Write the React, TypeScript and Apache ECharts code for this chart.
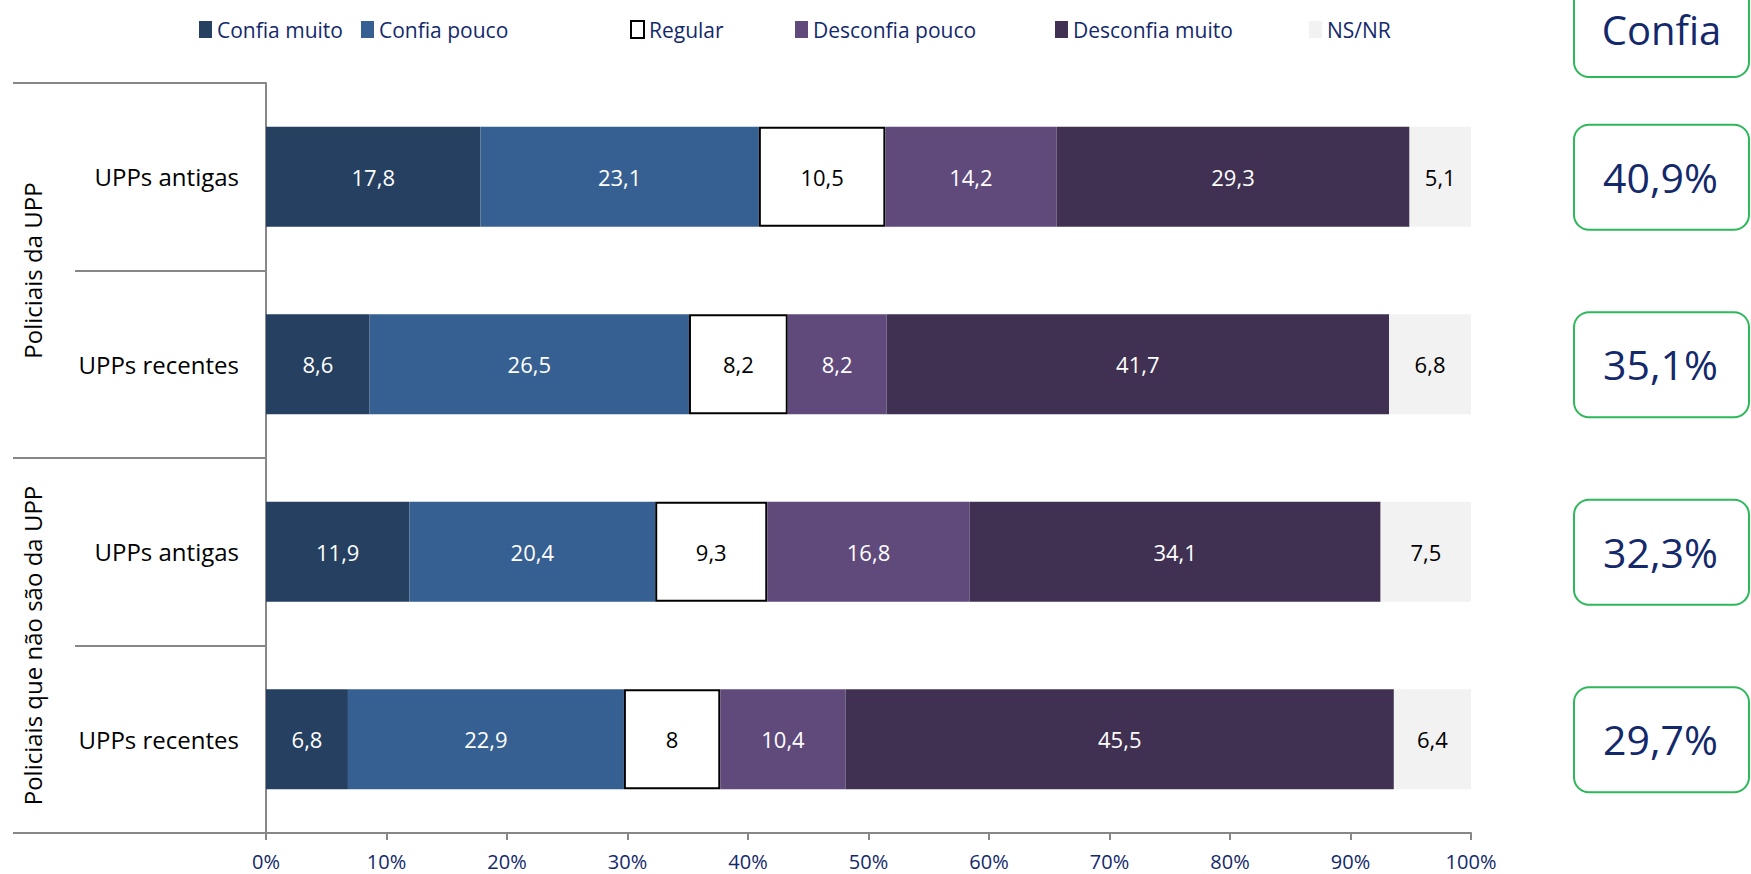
import React, { useEffect, useRef } from "react";
import * as echarts from "echarts";

// ---- data ----
const groupLabels = ["Policiais da UPP", "Policiais que não são da UPP"];
const subCategories = ["UPPs antigas", "UPPs recentes", "UPPs antigas", "UPPs recentes"];
const categoryGroup = [0, 0, 1, 1];
const seriesNames = ["Confia muito", "Confia pouco", "Regular", "Desconfia pouco", "Desconfia muito", "NS/NR"];
const confiaMuito = [17.8, 8.6, 11.9, 6.8];
const confiaPouco = [23.1, 26.5, 20.4, 22.9];
const regular = [10.5, 8.2, 9.3, 8];
const desconfiaPouco = [14.2, 8.2, 16.8, 10.4];
const desconfiaMuito = [29.3, 41.7, 34.1, 45.5];
const nsnr = [5.1, 6.8, 7.5, 6.4];
const xMin = 0;
const xMax = 100;
const xInterval = 10;
const boxTitle = "Confia";

const FONT = "'Open Sans', 'Noto Sans', sans-serif";
const NAVY = "#13296B";
const GRAY = "#878787";
const GREEN = "#2DB85A";

const seriesData = [confiaMuito, confiaPouco, regular, desconfiaPouco, desconfiaMuito, nsnr];
const seriesColors = ["#254061", "#376092", "#FFFFFF", "#604A7B", "#403152", "#F2F2F2"];
const labelColors = ["#FFFFFF", "#FFFFFF", "#000000", "#FFFFFF", "#FFFFFF", "#000000"];
const legendLeft = [194, 356, 625, 790, 1050, 1304];

const categoryKeys = subCategories.map((s, i) => `${groupLabels[categoryGroup[i]]}|${s}|${i}`);
const fmt = (v: number) => String(Math.round(v * 10) / 10).replace(".", ",");

export default function App() {
  const ref = useRef<HTMLDivElement>(null);
  useEffect(() => {
    const chart = echarts.init(ref.current!, null, { renderer: "svg" });
    const option: any = {
      animation: false,
      textStyle: { fontFamily: FONT },
      legend: seriesNames.map((n, i) => ({
        data: [n],
        left: legendLeft[i],
        top: 14,
        icon: "rect",
        itemWidth: 13,
        itemHeight: 17,
        selectedMode: false,
        textStyle: { fontFamily: FONT, fontSize: 21, color: NAVY },
      })),
      grid: { left: 266, right: 280, top: 83, bottom: 41, containLabel: false },
      xAxis: {
        type: "value",
        min: xMin,
        max: xMax,
        interval: xInterval,
        splitLine: { show: false },
        axisLine: { show: true, lineStyle: { color: GRAY, width: 2 } },
        axisTick: { show: true, length: 7, lineStyle: { color: GRAY, width: 2 } },
        axisLabel: { formatter: "{value}%", fontSize: 20, color: NAVY, fontFamily: FONT, margin: 18 },
      },
      yAxis: {
        type: "category",
        inverse: true,
        data: categoryKeys,
        axisLine: { show: true, lineStyle: { color: GRAY, width: 2 } },
        axisTick: { show: true, length: 191, lineStyle: { color: GRAY, width: 2 } },
        axisLabel: {
          formatter: (v: string) => v.split("|")[1],
          fontSize: 24,
          color: "#000000",
          fontFamily: FONT,
          margin: 27,
        },
      },
      series: seriesNames.map((n, i) => ({
        name: n,
        type: "bar",
        stack: "total",
        barWidth: 100,
        data: seriesData[i],
        itemStyle: {
          color: seriesColors[i],
          borderColor: i === 2 ? "#000000" : seriesColors[i],
          borderWidth: i === 2 ? 2 : 0,
        },
        label: {
          show: true,
          position: "inside",
          formatter: (p: any) => fmt(p.value),
          color: labelColors[i],
          fontSize: 22,
          fontFamily: FONT,
        },
        emphasis: { disabled: true },
      })),
    };
    chart.setOption(option);

    const centers = categoryKeys.map((k) => chart.convertToPixel({ yAxisIndex: 0 }, k) as number);
    const band = centers[1] - centers[0];
    const graphics: any[] = [];
    const groupStarts: number[] = [];
    categoryGroup.forEach((g, i) => {
      if (i === 0 || categoryGroup[i - 1] !== g) groupStarts.push(i);
    });
    const boundaryYs = groupStarts.map((i) => centers[i] - band / 2);
    boundaryYs.push(centers[centers.length - 1] + band / 2);
    boundaryYs.forEach((y) => {
      graphics.push({
        type: "line",
        shape: { x1: 13, y1: y, x2: 76, y2: y },
        style: { stroke: GRAY, lineWidth: 2 },
      });
    });
    groupStarts.forEach((s, gi) => {
      const end = gi + 1 < groupStarts.length ? groupStarts[gi + 1] - 1 : centers.length - 1;
      const mid = (centers[s] + centers[end]) / 2;
      graphics.push({
        type: "text",
        x: 32,
        y: mid,
        rotation: Math.PI / 2,
        style: {
          text: groupLabels[categoryGroup[s]],
          fontSize: 24,
          fontFamily: FONT,
          fill: "#000000",
          align: "center",
          verticalAlign: "middle",
        },
      });
    });
    const boxX = 1574;
    const boxW = 175;
    graphics.push({
      type: "rect",
      shape: { x: boxX, y: -30, width: boxW, height: 107, r: 15 },
      style: { fill: "#FFFFFF", stroke: GREEN, lineWidth: 2 },
    });
    graphics.push({
      type: "text",
      x: boxX + boxW / 2,
      y: 29,
      style: {
        text: boxTitle,
        fontSize: 40,
        lineHeight: 40,
        fontFamily: FONT,
        fill: NAVY,
        align: "center",
        verticalAlign: "middle",
      },
    });
    centers.forEach((c, i) => {
      const total = confiaMuito[i] + confiaPouco[i];
      graphics.push({
        type: "rect",
        shape: { x: boxX, y: c - 52, width: boxW, height: 105, r: 15 },
        style: { fill: "#FFFFFF", stroke: GREEN, lineWidth: 2 },
      });
      graphics.push({
        type: "text",
        x: boxX + boxW / 2 - 1,
        y: c,
        style: {
          text: fmt(total) + "%",
          fontSize: 41,
          fontFamily: FONT,
          fill: NAVY,
          align: "center",
          verticalAlign: "middle",
        },
      });
    });
    chart.setOption({ graphic: graphics });

    return () => chart.dispose();
  }, []);
  return (
    <div
      ref={ref}
      style={{ position: "fixed", left: 0, top: 0, width: 1751, height: 874, background: "#FFFFFF" }}
    />
  );
}
